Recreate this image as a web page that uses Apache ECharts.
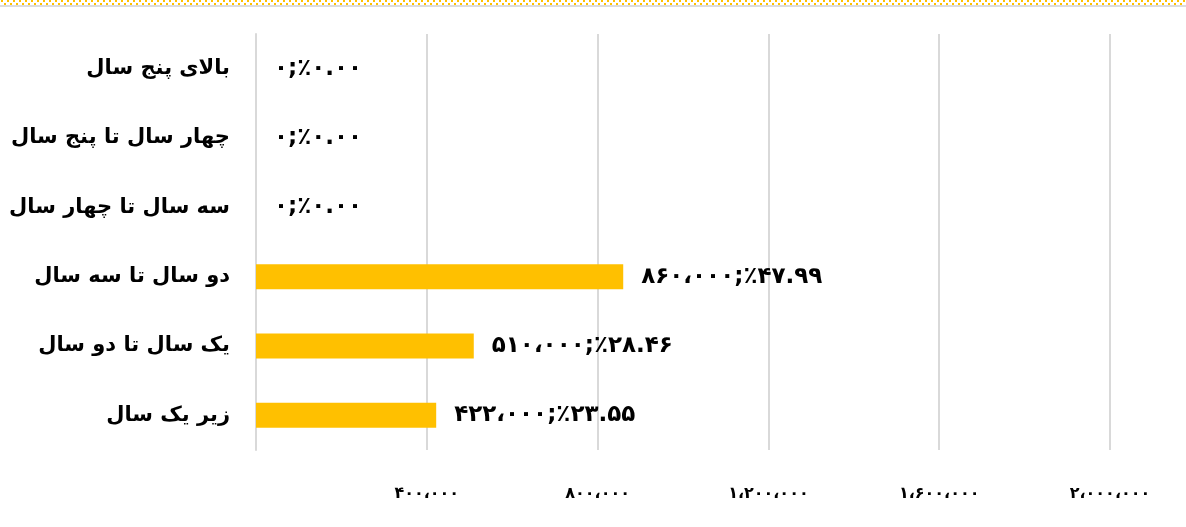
<!DOCTYPE html>
<html>
<head>
<meta charset="utf-8">
<script src="https://cdn.jsdelivr.net/npm/echarts@6/dist/echarts.min.js"></script>
<style>
  html, body { margin: 0; padding: 0; background: #fff; }
  #wrap { position: relative; width: 1186px; height: 527px; overflow: hidden; }
  #dots { position: absolute; left: 0; top: 0; width: 1186px; height: 5px;
    background-image: url("data:image/svg+xml,%3Csvg xmlns='http://www.w3.org/2000/svg' width='6' height='6'%3E%3Crect x='1' y='0' width='2' height='2' fill='%23ffc000'/%3E%3Crect x='4' y='3' width='2' height='2' fill='%23ffc000'/%3E%3C/svg%3E");
    background-size: 6px 6px;
    background-repeat: repeat-x;
  }
  #rule { position: absolute; left: 0; top: 5px; width: 1186px; height: 2px; background: #dcdcdc; }
  #chart { position: absolute; left: 0; top: 0; width: 1186px; height: 527px; }
</style>
</head>
<body>
<div id="wrap">
  <div id="chart"></div>
  <div id="dots"></div>
  <div id="rule"></div>
</div>
<script>
// categories from bottom to top
const categories = ['زیر یک سال', 'یک سال تا دو سال', 'دو سال تا سه سال', 'سه سال تا چهار سال', 'چهار سال تا پنج سال', 'بالای پنج سال'];
const amounts = [422000, 510000, 860000, 0, 0, 0];
const percents = ['23.55', '28.46', '47.99', '0.00', '0.00', '0.00'];
const axisMin = 0;
const axisMax = 2000000;
const axisStep = 400000;

const fa = '۰۱۲۳۴۵۶۷۸۹';
function toFa(s) { return String(s).replace(/[0-9]/g, d => fa[+d]); }
function fmtNum(n) {
  return toFa(String(n).replace(/\B(?=(\d{3})+(?!\d))/g, '،'));
}

const chart = echarts.init(document.getElementById('chart'), null, { renderer: 'canvas' });
const font = '"DejaVu Sans", "Noto Sans", sans-serif';
chart.setOption({
  animation: false,
  grid: { left: 256, right: 76, top: 34, bottom: 77, containLabel: false },
  xAxis: {
    type: 'value', min: axisMin, max: axisMax, interval: axisStep,
    axisLine: { show: false }, axisTick: { show: false },
    splitLine: { show: true, lineStyle: { color: '#d9d9d9', width: 2 } },
    axisLabel: {
      showMinLabel: false, margin: 36,
      color: '#000', fontWeight: 'bold', fontSize: 16, fontFamily: font,
      formatter: v => fmtNum(v)
    }
  },
  yAxis: {
    type: 'category', data: categories,
    axisLine: { show: true, lineStyle: { color: '#d9d9d9', width: 2 } },
    axisTick: { show: false },
    axisLabel: { color: '#000', fontWeight: 'bold', fontSize: 21, fontFamily: font, margin: 26 }
  },
  series: [{
    type: 'bar', data: amounts, barWidth: 25,
    itemStyle: { color: '#ffc000' },
    label: {
      show: true, position: 'right', distance: 18,
      color: '#000', fontWeight: 'bold', fontSize: 23, fontFamily: font,
      formatter: p => '\u200E' + fmtNum(amounts[p.dataIndex]) + ';٪' + toFa(percents[p.dataIndex])
    }
  }]
});
</script>
</body>
</html>
